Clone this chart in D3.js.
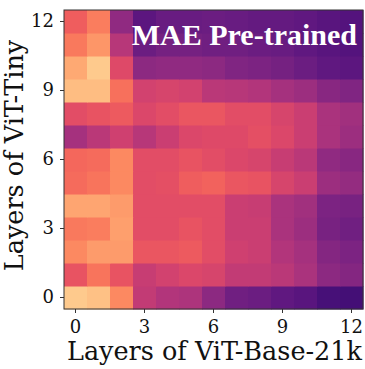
<!DOCTYPE html>
<html>
<head>
<meta charset="utf-8">
<script src="https://cdn.jsdelivr.net/npm/d3@7"></script>
<style>
  body { margin: 0; background: #fff; }
  svg { display: block; }
  .title { font-family: "Liberation Serif", "Times New Roman", Times, serif; font-weight: bold; }
</style>
</head>
<body>
<div class="heatChart"></div>
<script>
// layers of each model (rows = ViT-Tiny, columns = ViT-Base-21k)
let tinyLayers = d3.range(13);
let baseLayers = d3.range(13);
let tickValues = [0, 3, 6, 9, 12];

// similarity, one array per ViT-Tiny layer (0 = bottom row)
let layer0  = [0.89,0.87,0.75,0.53,0.49,0.48,0.40,0.33,0.32,0.29,0.27,0.23,0.22];
let layer1  = [0.63,0.71,0.63,0.54,0.57,0.59,0.58,0.53,0.53,0.51,0.47,0.40,0.38];
let layer2  = [0.75,0.79,0.79,0.64,0.64,0.65,0.61,0.56,0.55,0.49,0.46,0.38,0.36];
let layer3  = [0.72,0.73,0.80,0.61,0.61,0.63,0.61,0.55,0.55,0.47,0.44,0.35,0.33];
let layer4  = [0.81,0.81,0.79,0.61,0.61,0.61,0.61,0.55,0.54,0.47,0.45,0.36,0.35];
let layer5  = [0.69,0.71,0.75,0.61,0.62,0.66,0.67,0.64,0.63,0.58,0.55,0.44,0.42];
let layer6  = [0.68,0.69,0.75,0.61,0.61,0.63,0.61,0.59,0.58,0.54,0.51,0.41,0.39];
let layer7  = [0.46,0.51,0.56,0.50,0.55,0.59,0.60,0.60,0.62,0.59,0.55,0.47,0.44];
let layer8  = [0.61,0.63,0.65,0.59,0.61,0.64,0.64,0.61,0.61,0.58,0.55,0.47,0.45];
let layer9  = [0.86,0.86,0.70,0.57,0.58,0.57,0.51,0.50,0.49,0.46,0.44,0.39,0.37];
let layer10 = [0.82,0.89,0.60,0.40,0.41,0.41,0.40,0.37,0.36,0.34,0.32,0.29,0.28];
let layer11 = [0.72,0.78,0.50,0.32,0.34,0.34,0.33,0.33,0.32,0.31,0.29,0.27,0.26];
let layer12 = [0.66,0.73,0.41,0.28,0.31,0.31,0.32,0.31,0.30,0.30,0.29,0.27,0.26];

let rows = [layer0,layer1,layer2,layer3,layer4,layer5,layer6,layer7,layer8,layer9,layer10,layer11,layer12];

let margin = {top:10, right:2, bottom:60, left:64};
let width = 365, height = 369;
let plotW = width - margin.left - margin.right;
let plotH = height - margin.top - margin.bottom;

let svg = d3.select(".heatChart")
            .append("svg")
            .attr("width", width)
            .attr("height", height);

let g = svg.append("g")
           .attr("transform", "translate(" + margin.left + "," + margin.top + ")");

let xScale = d3.scaleBand().domain(baseLayers).range([0, plotW]).padding(0);
let yScale = d3.scaleBand().domain(tinyLayers).range([plotH, 0]).padding(0);
let color = d3.scaleSequential(d3.interpolateMagma).domain([0, 1]);

let cells = [];
rows.forEach(function(r, i){
    r.forEach(function(v, j){
        cells.push({tiny: tinyLayers[i], base: baseLayers[j], value: v});
    });
});

g.selectAll("rect.cell")
 .data(cells)
 .enter()
 .append("rect")
 .attr("class", "cell")
 .attr("x", d => xScale(d.base))
 .attr("y", d => yScale(d.tiny))
 .attr("width", xScale.bandwidth() + 0.5)
 .attr("height", yScale.bandwidth() + 0.5)
 .attr("fill", d => color(d.value));

// frame
g.append("rect")
 .attr("width", plotW)
 .attr("height", plotH)
 .attr("fill", "none")
 .attr("stroke", "#333")
 .attr("stroke-width", 1);

let xAxis = g.append("g")
             .attr("transform", "translate(0," + plotH + ")")
             .call(d3.axisBottom(xScale).tickValues(tickValues).tickSize(4).tickPadding(7));
let yAxis = g.append("g")
             .call(d3.axisLeft(yScale).tickValues(tickValues).tickSize(4).tickPadding(6));

[xAxis, yAxis].forEach(function(a){
    a.select(".domain").remove();
    a.selectAll("line").attr("stroke", "#333");
    a.selectAll("text")
     .attr("fill", "#111")
     .style("font-family", "DejaVu Serif")
     .style("font-size", "18px");
});

svg.append("text")
   .attr("x", margin.left + plotW / 2 + 1)
   .attr("y", 360)
   .attr("text-anchor", "middle")
   .style("font-family", "DejaVu Serif")
   .style("font-size", "25.5px")
   .attr("fill", "#111")
   .text("Layers of ViT-Base-21k");

svg.append("text")
   .attr("transform", "translate(23," + (margin.top + plotH / 2 - 4) + ") rotate(-90)")
   .attr("text-anchor", "middle")
   .style("font-family", "DejaVu Serif")
   .style("font-size", "25.5px")
   .attr("fill", "#111")
   .text("Layers of ViT-Tiny");

svg.append("text")
   .attr("class", "title")
   .attr("x", 357)
   .attr("y", 45)
   .attr("text-anchor", "end")
   .style("font-size", "30px")
   .attr("fill", "#fff")
   .text("MAE Pre-trained");
</script>
</body>
</html>
